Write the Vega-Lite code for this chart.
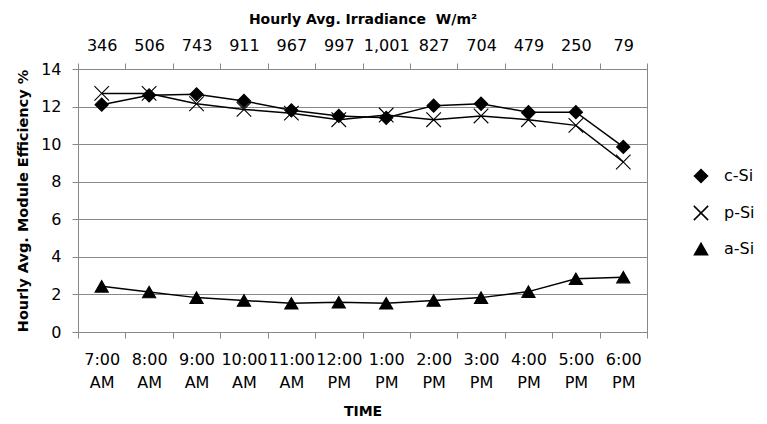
{
  "$schema": "https://vega.github.io/schema/vega-lite/v6.json",
  "autosize": "none",
  "width": 569,
  "height": 263,
  "padding": {"left": 78, "top": 69, "right": 120, "bottom": 92},
  "background": "white",
  "config": {
    "font": "DejaVu Sans",
    "view": {"stroke": "#888888", "strokeWidth": 1},
    "axis": {
      "labelFont": "DejaVu Sans",
      "labelFontSize": 16,
      "labelColor": "#000000",
      "titleFont": "DejaVu Sans",
      "titleFontSize": 14,
      "titleFontWeight": "bold",
      "titleColor": "#000000",
      "domainColor": "#888888",
      "tickColor": "#888888",
      "gridColor": "#888888",
      "tickSize": 6,
      "labelOverlap": false,
      "labelBound": false
    },
    "legend": {"labelFont": "DejaVu Sans", "labelFontSize": 16, "labelColor": "#000000"}
  },
  "data": {
    "values": [
      {"time": "7:00 AM", "irr": 346, "series": "c-Si", "eff": 12.1},
      {"time": "8:00 AM", "irr": 506, "series": "c-Si", "eff": 12.6},
      {"time": "9:00 AM", "irr": 743, "series": "c-Si", "eff": 12.65},
      {"time": "10:00 AM", "irr": 911, "series": "c-Si", "eff": 12.3},
      {"time": "11:00 AM", "irr": 967, "series": "c-Si", "eff": 11.8},
      {"time": "12:00 PM", "irr": 997, "series": "c-Si", "eff": 11.5},
      {"time": "1:00 PM", "irr": 1001, "series": "c-Si", "eff": 11.4},
      {"time": "2:00 PM", "irr": 827, "series": "c-Si", "eff": 12.05},
      {"time": "3:00 PM", "irr": 704, "series": "c-Si", "eff": 12.15},
      {"time": "4:00 PM", "irr": 479, "series": "c-Si", "eff": 11.7},
      {"time": "5:00 PM", "irr": 250, "series": "c-Si", "eff": 11.7},
      {"time": "6:00 PM", "irr": 79, "series": "c-Si", "eff": 9.85},
      {"time": "7:00 AM", "irr": 346, "series": "p-Si", "eff": 12.7},
      {"time": "8:00 AM", "irr": 506, "series": "p-Si", "eff": 12.7},
      {"time": "9:00 AM", "irr": 743, "series": "p-Si", "eff": 12.15},
      {"time": "10:00 AM", "irr": 911, "series": "p-Si", "eff": 11.85},
      {"time": "11:00 AM", "irr": 967, "series": "p-Si", "eff": 11.65},
      {"time": "12:00 PM", "irr": 997, "series": "p-Si", "eff": 11.3},
      {"time": "1:00 PM", "irr": 1001, "series": "p-Si", "eff": 11.55},
      {"time": "2:00 PM", "irr": 827, "series": "p-Si", "eff": 11.3},
      {"time": "3:00 PM", "irr": 704, "series": "p-Si", "eff": 11.5},
      {"time": "4:00 PM", "irr": 479, "series": "p-Si", "eff": 11.3},
      {"time": "5:00 PM", "irr": 250, "series": "p-Si", "eff": 11.0},
      {"time": "6:00 PM", "irr": 79, "series": "p-Si", "eff": 9.05},
      {"time": "7:00 AM", "irr": 346, "series": "a-Si", "eff": 2.43},
      {"time": "8:00 AM", "irr": 506, "series": "a-Si", "eff": 2.13},
      {"time": "9:00 AM", "irr": 743, "series": "a-Si", "eff": 1.83},
      {"time": "10:00 AM", "irr": 911, "series": "a-Si", "eff": 1.68},
      {"time": "11:00 AM", "irr": 967, "series": "a-Si", "eff": 1.53},
      {"time": "12:00 PM", "irr": 997, "series": "a-Si", "eff": 1.58},
      {"time": "1:00 PM", "irr": 1001, "series": "a-Si", "eff": 1.53},
      {"time": "2:00 PM", "irr": 827, "series": "a-Si", "eff": 1.68},
      {"time": "3:00 PM", "irr": 704, "series": "a-Si", "eff": 1.83},
      {"time": "4:00 PM", "irr": 479, "series": "a-Si", "eff": 2.15},
      {"time": "5:00 PM", "irr": 250, "series": "a-Si", "eff": 2.83},
      {"time": "6:00 PM", "irr": 79, "series": "a-Si", "eff": 2.92}
    ]
  },
  "layer": [
    {
      "encoding": {
        "x": {
          "field": "time",
          "type": "ordinal",
          "sort": null,
          "scale": {"type": "band", "paddingInner": 0, "paddingOuter": 0},
          "axis": {
            "orient": "bottom",
            "title": "TIME",
            "labelAngle": 0,
            "tickBand": "extent",
            "labelExpr": "isValid(datum.value) ? split(datum.value, ' ') : ''",
            "labelLineHeight": 23,
            "labelPadding": 13,
            "titlePadding": 14
          }
        },
        "y": {
          "field": "eff",
          "type": "quantitative",
          "scale": {"domain": [0, 14], "nice": false},
          "axis": {
            "title": "Hourly Avg. Module Efficiency %",
            "titleFontSize": 14.5,
            "values": [0, 2, 4, 6, 8, 10, 12, 14],
            "labelPadding": 11,
            "titlePadding": 10,
            "grid": true
          }
        }
      },
      "layer": [
        {
          "mark": {"type": "line", "color": "#000000", "strokeWidth": 1.5},
          "encoding": {"detail": {"field": "series"}}
        },
        {
          "mark": {"type": "point", "filled": true, "opacity": 1, "fill": "#000000", "stroke": "#000000", "strokeWidth": 1.1, "size": 175},
          "encoding": {
            "shape": {
              "field": "series",
              "type": "nominal",
              "sort": null,
              "scale": {"domain": ["c-Si", "p-Si", "a-Si"], "range": ["diamond", "M-1.1,-1.1L1.1,1.1M-1.1,1.1L1.1,-1.1", "triangle-up"]},
              "legend": {
                "title": null,
                "orient": "none",
                "legendX": 615,
                "legendY": 99,
                "padding": 0,
                "symbolSize": 169,
                "labelOffset": 15,
                "rowPadding": 16
              }
            }
          }
        }
      ]
    },
    {
      "mark": {"type": "point", "opacity": 0},
      "encoding": {
        "x": {
          "field": "irr",
          "type": "ordinal",
          "sort": null,
          "scale": {"type": "band", "paddingInner": 0, "paddingOuter": 0},
          "axis": {
            "orient": "top",
            "title": "Hourly Avg. Irradiance\u00a0 W/m²",
            "labelAngle": 0,
            "tickBand": "extent",
            "labelExpr": "isValid(datum.value) ? format(datum.value, ',') : ''",
            "labelPadding": 10,
            "titlePadding": 11
          }
        }
      }
    }
  ],
  "resolve": {"scale": {"x": "independent"}, "axis": {"x": "independent"}}
}
